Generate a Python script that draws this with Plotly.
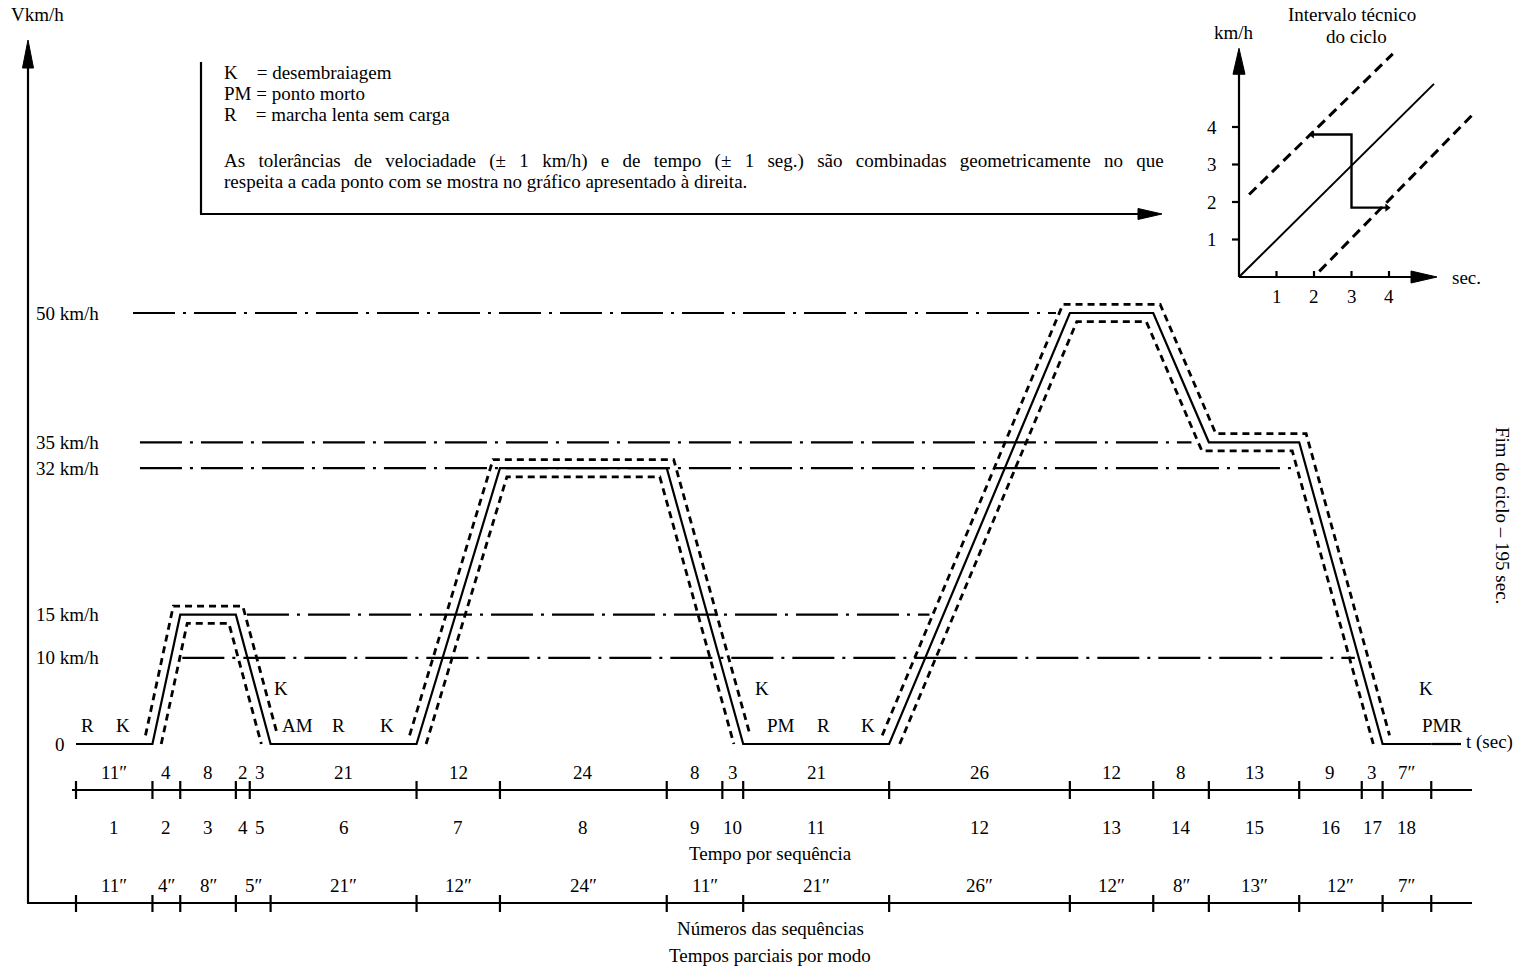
import numpy as np
import plotly.graph_objects as go

W, H = 1520, 968

# ---------------- data ----------------
# speed profile of the urban driving cycle (time in s, speed in km/h)
profile_t = [0, 11, 15, 23, 28, 49, 61, 85, 96, 117, 143, 155, 163, 176, 188, 195]
profile_v = [0, 0, 15, 15, 0, 0, 32, 32, 0, 0, 50, 50, 35, 35, 0, 0]

speed_tol = 1.0   # km/h
time_tol = 1.0    # s

ref_levels = [50, 35, 32, 15, 10]
ref_labels = ["50 km/h", "35 km/h", "32 km/h", "15 km/h", "10 km/h"]

# sequences: duration (s) and the label printed above each one
seq_numbers = list(range(1, 19))
seq_durations = [11, 4, 8, 2, 3, 21, 12, 24, 8, 3, 21, 26, 12, 8, 13, 9, 3, 7]
seq_duration_labels = ["11″", "4", "8", "2", "3", "21", "12", "24", "8", "3",
                       "21", "26", "12", "8", "13", "9", "3", "7″"]
unmarked_boundary = 28   # no tick between sequences 5 and 6

# partial times by mode
mode_durations = [11, 4, 8, 5, 21, 12, 24, 11, 21, 26, 12, 8, 13, 12, 7]

# mode letters written along the profile: (time, speed, text)
mode_marks_t = [1.6, 6.7, 29.5, 31.9, 37.8, 44.7, 98.7, 101.4, 107.6, 113.9, 194.2, 196.6]
mode_marks_v = [2.1, 2.1, 6.4, 2.1, 2.1, 2.1, 6.4, 2.1, 2.1, 2.1, 6.4, 2.1]
mode_marks_txt = ["R", "K", "K", "AM", "R", "K", "K", "PM", "R", "K", "K", "PMR"]

# inset: technical interval of the cycle (sec, km/h)
inset_nominal_t = [0, 5.2]
inset_nominal_v = [0, 5.15]
inset_upper_t = [0.27, 4.1]
inset_upper_v = [2.2, 5.95]
inset_lower_t = [2.14, 6.2]
inset_lower_v = [0.15, 4.3]
inset_step_t = [1.95, 3.0, 3.0, 3.95]
inset_step_v = [3.8, 3.8, 1.85, 1.85]
inset_ticks = [1, 2, 3, 4]

# ---------------- page frame ----------------
X0_PX, X_SCALE = 76.0, 6.95      # position of t = 0 and px per second
Y0_PX, Y_SCALE = 744.0, 8.62     # position of v = 0 and px per km/h
IX0_PX, IY0_PX, I_SCALE = 1239.0, 277.0, 37.5

FONT = "Liberation Serif, Times New Roman, serif"
FS = 19
BLACK = "#000000"


def px(x):
    return x / W


def py(y):
    return 1 - y / H


def t_px(t):
    return X0_PX + t * X_SCALE


def ix_px(t):
    return IX0_PX + t * I_SCALE


def iy_px(v):
    return IY0_PX - v * I_SCALE


# ---------------- tolerance envelope ----------------
def window_extreme(t, fn):
    lo, hi = t - time_tol, t + time_tol
    cand = [float(np.interp(lo, profile_t, profile_v)),
            float(np.interp(hi, profile_t, profile_v))]
    cand += [v for tt, v in zip(profile_t, profile_v) if lo <= tt <= hi]
    return fn(cand)


sample_t = sorted({min(max(t + d, profile_t[0]), profile_t[-1])
                   for t in profile_t for d in (-time_tol, 0, time_tol)})
upper_v = [window_extreme(t, max) + speed_tol for t in sample_t]
lower_v = [window_extreme(t, min) - speed_tol for t in sample_t]


def keep_above(ts, vs, floor):
    xs, ys = [], []
    for i in range(len(ts) - 1):
        t0, v0, t1, v1 = ts[i], vs[i], ts[i + 1], vs[i + 1]
        if v0 <= floor and v1 <= floor:
            if xs and xs[-1] is not None:
                xs.append(None)
                ys.append(None)
            continue
        if v0 <= floor:
            xs.append(t0 + (floor - v0) * (t1 - t0) / (v1 - v0))
            ys.append(floor)
        elif not xs or xs[-1] is None:
            xs.append(t0)
            ys.append(v0)
        if v1 <= floor:
            xs.append(t0 + (floor - v0) * (t1 - t0) / (v1 - v0))
            ys.append(floor)
            xs.append(None)
            ys.append(None)
        else:
            xs.append(t1)
            ys.append(v1)
    return xs, ys


up_x, up_y = keep_above(sample_t, upper_v, speed_tol)
lo_x, lo_y = keep_above(sample_t, lower_v, 0.0)

fig = go.Figure()

# reference speed levels (dash-dot)
ref_extent = {50: (8.2, 141.0), 35: (9.2, 160.5), 32: (9.2, 175.5),
              15: (24.6, 122.8), 10: (15.3, 184.0)}
for lvl in ref_levels:
    a, b = ref_extent[lvl]
    fig.add_trace(go.Scatter(x=[a, b], y=[lvl, lvl], mode="lines",
                             line=dict(color=BLACK, width=2.2, dash="42px,8px,3px,8px"),
                             hoverinfo="skip", showlegend=False))

# tolerance band
for xs, ys in ((up_x, up_y), (lo_x, lo_y)):
    fig.add_trace(go.Scatter(x=xs, y=ys, mode="lines", connectgaps=False,
                             line=dict(color=BLACK, width=2.8, dash="7px,5px"),
                             hoverinfo="skip", showlegend=False))

# nominal profile
fig.add_trace(go.Scatter(x=profile_t, y=profile_v, mode="lines",
                         line=dict(color=BLACK, width=2.2),
                         hoverinfo="skip", showlegend=False))

# inset traces
fig.add_trace(go.Scatter(x=inset_nominal_t, y=inset_nominal_v, mode="lines",
                         xaxis="x2", yaxis="y2", line=dict(color=BLACK, width=2),
                         hoverinfo="skip", showlegend=False))
for xs, ys in ((inset_upper_t, inset_upper_v), (inset_lower_t, inset_lower_v)):
    fig.add_trace(go.Scatter(x=xs, y=ys, mode="lines", xaxis="x2", yaxis="y2",
                             line=dict(color=BLACK, width=3, dash="10px,6px"),
                             hoverinfo="skip", showlegend=False))
fig.add_trace(go.Scatter(x=inset_step_t, y=inset_step_v, mode="lines",
                         xaxis="x2", yaxis="y2", line=dict(color=BLACK, width=2.4),
                         hoverinfo="skip", showlegend=False))
fig.add_trace(go.Scatter(x=[inset_step_t[0], inset_step_t[-1]],
                         y=[inset_step_v[0], inset_step_v[-1]], mode="markers",
                         xaxis="x2", yaxis="y2",
                         marker=dict(symbol=["triangle-left", "triangle-right"],
                                     size=7, color=BLACK),
                         hoverinfo="skip", showlegend=False))

shapes = []
annotations = []


def line_px(x0, y0, x1, y1, width=2.2):
    shapes.append(dict(type="line", xref="paper", yref="paper",
                       x0=px(x0), y0=py(y0), x1=px(x1), y1=py(y1),
                       line=dict(color=BLACK, width=width)))


def arrow_px(tip, direction, length, half):
    tx, ty = tip
    dx, dy = direction
    n = (dx * dx + dy * dy) ** 0.5
    dx, dy = dx / n, dy / n
    bx, by = tx - dx * length, ty - dy * length
    nx, ny = -dy, dx
    pts = [(tx, ty), (bx + nx * half, by + ny * half), (bx - nx * half, by - ny * half)]
    path = "M " + " L ".join(f"{px(a):.5f},{py(b):.5f}" for a, b in pts) + " Z"
    shapes.append(dict(type="path", xref="paper", yref="paper", path=path,
                       fillcolor=BLACK, line=dict(color=BLACK, width=1)))


def text_px(x, y, s, size=FS, xanchor="center", angle=0):
    annotations.append(dict(x=px(x), y=py(y), xref="paper", yref="paper", text=s,
                            showarrow=False, xanchor=xanchor, yanchor="middle",
                            textangle=angle,
                            font=dict(family=FONT, size=size, color=BLACK)))


# main vertical axis with arrow and bottom frame
line_px(28, 62, 28, 903)
arrow_px((28, 40), (0, -1), 28, 5.5)
line_px(27, 903, 1472, 903)
text_px(37, 15, "Vkm/h")

# time axis under the profile
line_px(t_px(profile_t[-1]), Y0_PX, 1461, Y0_PX)
text_px(1464, Y0_PX - 2, "t (sec)", xanchor="left")

# speed level labels
for lvl, lab in zip(ref_levels, ref_labels):
    text_px(101, Y0_PX - lvl * Y_SCALE, lab, xanchor="right")
text_px(60, Y0_PX, "0")

# mode letters
for t, v, s in zip(mode_marks_t, mode_marks_v, mode_marks_txt):
    text_px(t_px(t), Y0_PX - v * Y_SCALE, s)

# sequence row
bounds = np.concatenate([[0], np.cumsum(seq_durations)])
ROW1_Y, ROW3_Y = 790, 903
line_px(72, ROW1_Y, 1472, ROW1_Y)
for b in bounds:
    if b == unmarked_boundary:
        continue
    line_px(t_px(b), ROW1_Y - 9, t_px(b), ROW1_Y + 9)
for i, lab in enumerate(seq_duration_labels):
    mid = (bounds[i] + bounds[i + 1]) / 2
    text_px(t_px(mid), 772, lab)
    text_px(t_px(mid), 827, str(seq_numbers[i]))
text_px(770, 853, "Tempo por sequência")

# partial times by mode
mbounds = np.concatenate([[0], np.cumsum(mode_durations)])
for b in mbounds:
    line_px(t_px(b), ROW3_Y - 8, t_px(b), ROW3_Y + 9)
for i, d in enumerate(mode_durations):
    mid = (mbounds[i] + mbounds[i + 1]) / 2
    text_px(t_px(mid), 885, f"{d}″")
text_px(770, 928, "Números das sequências")
text_px(770, 955, "Tempos parciais por modo")

# end-of-cycle note
text_px(1503, 515, "Fim do ciclo – 195 sec.", angle=90)

# key box
line_px(201, 62, 201, 214)
line_px(200, 214, 1140, 214)
arrow_px((1162, 214), (1, 0), 24, 5.5)
text_px(222, 73, "K\u00a0\u00a0\u00a0\u00a0= desembraiagem", xanchor="left")
text_px(222, 94, "PM = ponto morto", xanchor="left")
text_px(222, 115, "R\u00a0\u00a0\u00a0\u00a0= marcha lenta sem carga", xanchor="left")
first = ("As tolerâncias de velociadade (± 1 km/h) e de tempo (± 1 seg.) são "
         "combinadas geometricamente no que")
text_px(222, 161, " \u00a0\u2009".join(first.split(" ")), xanchor="left")
text_px(222, 182, "respeita a cada ponto com se mostra no gráfico apresentado à direita.",
        xanchor="left")

# inset axes
line_px(IX0_PX, IY0_PX, ix_px(5.0), IY0_PX)
arrow_px((ix_px(5.28), IY0_PX), (1, 0), 26, 6)
line_px(IX0_PX, IY0_PX, IX0_PX, iy_px(5.5))
arrow_px((IX0_PX, iy_px(6.1)), (0, -1), 26, 6)
for k in inset_ticks:
    line_px(ix_px(k), IY0_PX - 6, ix_px(k), IY0_PX + 1)
    text_px(ix_px(k), 296, str(k))
    line_px(IX0_PX - 7, iy_px(k), IX0_PX, iy_px(k))
    text_px(1212, iy_px(k), str(k))
text_px(1234, 33, "km/h")
text_px(1352, 15, "Intervalo técnico")
text_px(1356, 37, "do ciclo")
text_px(1450, IY0_PX, "sec.", xanchor="left")

fig.update_layout(
    width=W, height=H,
    margin=dict(l=0, r=0, t=0, b=0),
    paper_bgcolor="white", plot_bgcolor="rgba(0,0,0,0)",
    showlegend=False,
    xaxis=dict(domain=[0, 1], range=[-X0_PX / X_SCALE, (W - X0_PX) / X_SCALE],
               visible=False, fixedrange=True),
    yaxis=dict(domain=[0, 1], range=[(Y0_PX - H) / Y_SCALE, Y0_PX / Y_SCALE],
               visible=False, fixedrange=True),
    xaxis2=dict(domain=[0, 1], anchor="y2",
                range=[-IX0_PX / I_SCALE, (W - IX0_PX) / I_SCALE],
                visible=False, fixedrange=True),
    yaxis2=dict(domain=[0, 1], anchor="x2",
                range=[(IY0_PX - H) / I_SCALE, IY0_PX / I_SCALE],
                visible=False, fixedrange=True),
    shapes=shapes,
    annotations=annotations,
)

fig.write_html("out.html", config={"displayModeBar": False})
